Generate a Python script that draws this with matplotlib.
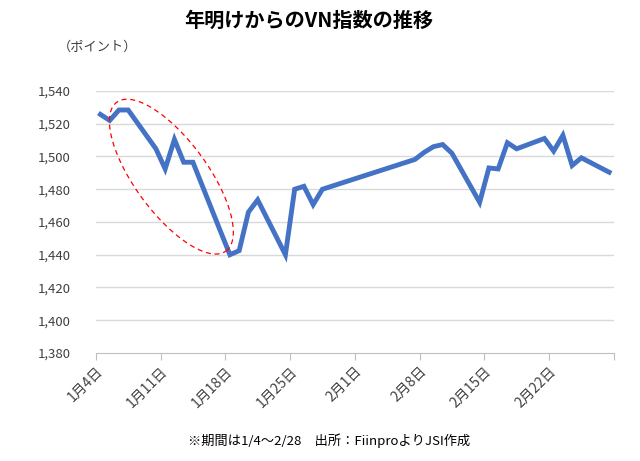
import numpy as np
import matplotlib
matplotlib.use('Agg')
import matplotlib.pyplot as plt
import matplotlib.dates as mdates

plt.rcParams['font.family'] = ['Noto Sans CJK JP', 'DejaVu Sans']

# VN指数の終値
dates = ['2022-01-04', '2022-01-05', '2022-01-06', '2022-01-07',
         '2022-01-10', '2022-01-11', '2022-01-12', '2022-01-13', '2022-01-14',
         '2022-01-17', '2022-01-18', '2022-01-19', '2022-01-20', '2022-01-21',
         '2022-01-24', '2022-01-25', '2022-01-26', '2022-01-27', '2022-01-28',
         '2022-02-07', '2022-02-08', '2022-02-09', '2022-02-10', '2022-02-11',
         '2022-02-14', '2022-02-15', '2022-02-16', '2022-02-17', '2022-02-18',
         '2022-02-21', '2022-02-22', '2022-02-23', '2022-02-24', '2022-02-25',
         '2022-02-28']
values = [1525.7, 1522.0, 1528.4, 1528.4,
          1504.7, 1492.4, 1510.4, 1496.5, 1496.5,
          1454.0, 1440.0, 1442.5, 1466.0, 1473.5,
          1440.0, 1480.0, 1481.8, 1470.6, 1480.0,
          1498.2, 1502.5, 1506.0, 1507.3, 1502.0,
          1472.0, 1493.0, 1492.4, 1508.4, 1504.7,
          1511.0, 1503.3, 1512.9, 1494.5, 1499.2,
          1490.4]

tick_dates = ['2022-01-04', '2022-01-11', '2022-01-18', '2022-01-25',
              '2022-02-01', '2022-02-08', '2022-02-15', '2022-02-22', '2022-03-01']
tick_labels = ['1月4日', '1月11日', '1月18日', '1月25日',
               '2月1日', '2月8日', '2月15日', '2月22日', '']

y_ticks = np.arange(1380, 1541, 20)

x = mdates.date2num(np.array(dates, dtype='datetime64[D]')) + 0.5
xt = mdates.date2num(np.array(tick_dates, dtype='datetime64[D]'))

fig = plt.figure(figsize=(6.4, 4.61), dpi=100)
ax = fig.add_axes([0.1497, 0.2343, 0.8093, 0.5683])

for yv in y_ticks[1:]:
    ax.axhline(yv, color='#d9d9d9', lw=1.0, zorder=1)

ax.plot(x, values, color='#4472C4', lw=3.5, solid_joinstyle='miter', zorder=3)

ax.set_xlim(xt[0], xt[-1])
ax.set_ylim(1380, 1540)
ax.set_yticks(y_ticks)
ax.set_yticklabels([f'{v:,}' for v in y_ticks], fontsize=9.5, color='#404040')
ax.set_xticks(xt)
ax.set_xticklabels(tick_labels, rotation=45, ha='right', rotation_mode='anchor',
                   fontsize=10, color='#404040')
ax.tick_params(axis='y', length=0, pad=18)
ax.tick_params(axis='x', length=5, color='#bfbfbf', pad=3)

for s in ['top', 'right', 'left']:
    ax.spines[s].set_visible(False)
ax.spines['bottom'].set_color('#bfbfbf')

# 赤い破線の楕円（1月上旬〜中旬の下落）
px_day = ax.bbox.width / (xt[-1] - xt[0])
px_pt = ax.bbox.height / 160.0
cx = xt[0] + 8.17
cy = 1487.7
a, b, th = 92.3, 36.3, np.deg2rad(-53.7)
t = np.linspace(0, 2 * np.pi, 200)
ex = a * np.cos(t) * np.cos(th) - b * np.sin(t) * np.sin(th)
ey = a * np.cos(t) * np.sin(th) + b * np.sin(t) * np.cos(th)
ax.plot(cx + ex / px_day, cy + ey / px_pt, color='#ff0000', lw=0.9,
        ls=(0, (4, 3)), zorder=4, clip_on=False)

fig.text(0.483, 0.955, '年明けからのVN指数の推移', ha='center', va='center',
         fontsize=14.5, fontweight='bold', color='#000000')
fig.text(0.09, 0.898, '（ポイント）', ha='left', va='center', fontsize=9.5,
         color='#404040')
fig.text(0.515, 0.043, '※期間は1/4～2/28　出所：FiinproよりJSI作成',
         ha='center', va='center', fontsize=9.5, color='#000000')

fig.savefig('out.png', dpi=100)
